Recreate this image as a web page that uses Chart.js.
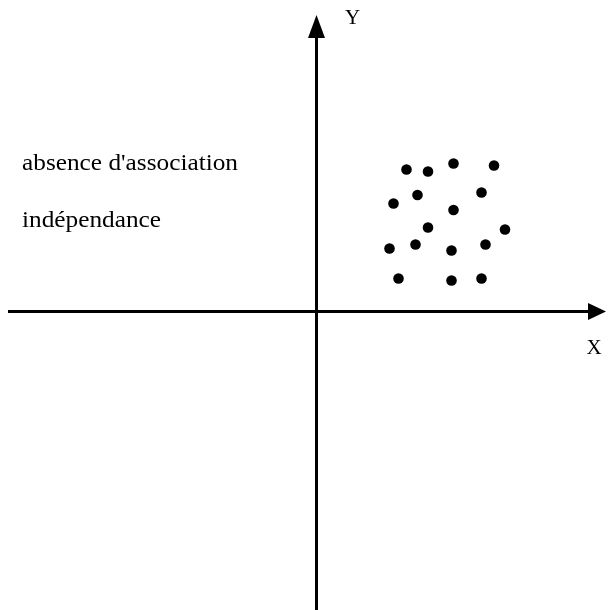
<!DOCTYPE html>
<html>
<head>
<meta charset="utf-8">
<script src="https://cdn.jsdelivr.net/npm/chart.js@4.4.1/dist/chart.umd.min.js"></script>
<style>
html,body{margin:0;padding:0;background:#fff;}
canvas{display:block;}
</style>
</head>
<body>
<canvas id="c" width="608" height="610"></canvas>
<script>
// Data (arbitrary units, origin at axes crossing)
const pointsX = [9.0, 11.15, 13.7, 17.75, 7.7, 10.1, 16.5, 13.7, 11.15, 18.85, 7.3, 9.9, 13.5, 16.9, 8.2, 13.5, 16.5];
const pointsY = [14.2, 14.0, 14.8, 14.6, 10.8, 11.65, 11.9, 10.15, 8.4, 8.2, 6.3, 6.7, 6.1, 6.7, 3.3, 3.1, 3.3];
const axisXLabel = 'X';
const axisYLabel = 'Y';
const annotations = ["absence d'association", 'indépendance'];

const xRange = [-31.65, 29.15];
const yRange = [-29.85, 31.15];
const axisXExtent = [-30.85, 28.95];
const axisYExtent = [-29.85, 29.65];

const axesPlugin = {
  id: 'axesArrows',
  beforeDatasetsDraw(chart) {
    const ctx = chart.ctx;
    const xs = chart.scales.x, ys = chart.scales.y;
    const x0 = xs.getPixelForValue(0), y0 = ys.getPixelForValue(0);
    ctx.save();
    ctx.strokeStyle = '#000';
    ctx.fillStyle = '#000';
    ctx.lineWidth = 3;
    // horizontal axis
    const hx1 = xs.getPixelForValue(axisXExtent[0]);
    const hx2 = xs.getPixelForValue(axisXExtent[1]);
    ctx.beginPath();
    ctx.moveTo(hx1, y0);
    ctx.lineTo(hx2 - 10, y0);
    ctx.stroke();
    ctx.beginPath();
    ctx.moveTo(hx2, y0);
    ctx.lineTo(hx2 - 18, y0 - 8.5);
    ctx.lineTo(hx2 - 18, y0 + 8.5);
    ctx.closePath();
    ctx.fill();
    // vertical axis
    const vy1 = ys.getPixelForValue(axisYExtent[0]);
    const vy2 = ys.getPixelForValue(axisYExtent[1]);
    ctx.beginPath();
    ctx.moveTo(x0, vy1);
    ctx.lineTo(x0, vy2 + 10);
    ctx.stroke();
    ctx.beginPath();
    ctx.moveTo(x0, vy2);
    ctx.lineTo(x0 - 8.5, vy2 + 23);
    ctx.lineTo(x0 + 8.5, vy2 + 23);
    ctx.closePath();
    ctx.fill();
    // axis labels
    ctx.font = '21px "Liberation Serif", "Times New Roman", serif';
    ctx.textAlign = 'center';
    ctx.textBaseline = 'middle';
    ctx.fillText(axisYLabel, x0 + 36, 18);
    ctx.fillText(axisXLabel, 594, y0 + 37);
    // annotations
    ctx.font = '23px "Liberation Serif", "Times New Roman", serif';
    ctx.textAlign = 'left';
    ctx.textBaseline = 'alphabetic';
    ctx.save();
    ctx.translate(22, 0);
    ctx.scale(1.1, 1);
    ctx.fillText(annotations[0], 0, 170);
    ctx.fillText(annotations[1], 0, 227);
    ctx.restore();
    ctx.restore();
  }
};

new Chart(document.getElementById('c'), {
  type: 'scatter',
  data: {
    datasets: [{
      data: pointsX.map((x, i) => ({x, y: pointsY[i]})),
      backgroundColor: '#000',
      borderWidth: 0,
      pointRadius: 5.3,
      pointHoverRadius: 5.3
    }]
  },
  options: {
    responsive: false,
    animation: false,
    devicePixelRatio: 1,
    layout: {padding: 0, autoPadding: false},
    plugins: {legend: {display: false}, tooltip: {enabled: false}},
    events: [],
    scales: {
      x: {type: 'linear', display: false, min: xRange[0], max: xRange[1]},
      y: {type: 'linear', display: false, min: yRange[0], max: yRange[1]}
    }
  },
  plugins: [axesPlugin]
});
</script>
</body>
</html>
